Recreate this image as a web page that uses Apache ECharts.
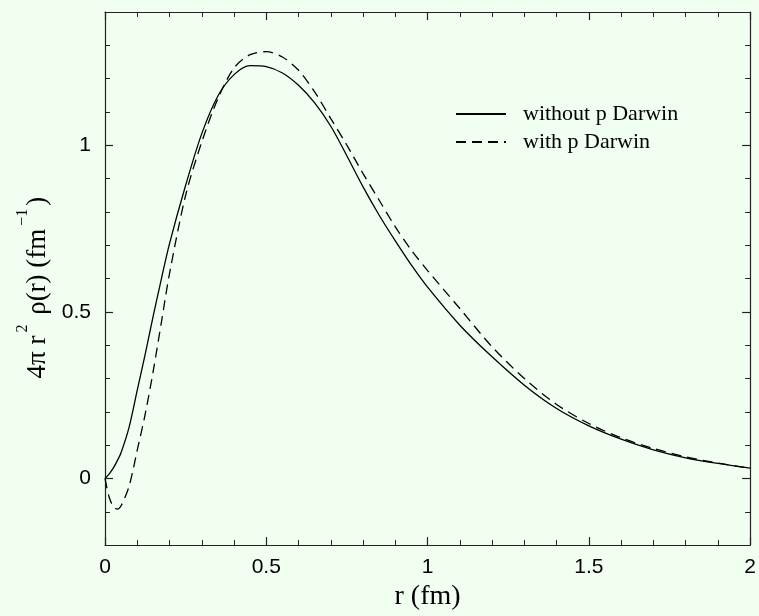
<!DOCTYPE html>
<html>
<head>
<meta charset="utf-8">
<script src="https://cdn.jsdelivr.net/npm/echarts@6/dist/echarts.min.js"></script>
<style>
  html, body { margin: 0; padding: 0; background: #f0fff0; }
  #chart { width: 759px; height: 616px; }
</style>
</head>
<body>
<div id="chart"></div>
<script>
// radius r (fm)
const rValues = [0, 0.0125, 0.025, 0.0375, 0.05, 0.075, 0.1, 0.125, 0.15, 0.175, 0.2,
  0.25, 0.3, 0.35, 0.4, 0.45, 0.5, 0.55, 0.6, 0.65, 0.7, 0.75, 0.8, 0.85, 0.9, 0.95, 1.0,
  1.1, 1.2, 1.3, 1.4, 1.5, 1.6, 1.7, 1.8, 1.9, 2.0]
// 4 pi r^2 rho(r), solid curve
const withoutDarwin = [0, 0.013, 0.03, 0.052, 0.078, 0.155, 0.265, 0.375, 0.49, 0.6, 0.705,
  0.88, 1.035, 1.148, 1.212, 1.239, 1.236, 1.217, 1.18, 1.127, 1.057, 0.968, 0.875, 0.79, 0.713, 0.64, 0.574,
  0.46, 0.365, 0.28, 0.21, 0.158, 0.118, 0.086, 0.062, 0.045, 0.031]
// dashed curve
const withDarwin = [0, -0.055, -0.083, -0.092, -0.082, -0.022, 0.085, 0.195, 0.325, 0.47, 0.615,
  0.85, 1.01, 1.14, 1.232, 1.272, 1.281, 1.265, 1.225, 1.16, 1.08, 1.0, 0.915, 0.835, 0.755, 0.685, 0.624,
  0.51, 0.395, 0.3, 0.222, 0.165, 0.122, 0.09, 0.065, 0.046, 0.031]
const yLabelValues = [0, 0.5, 1]
const seriesNames = ['without p Darwin', 'with p Darwin']

const axisColor = '#222'

function pairs (ys) {
  return rValues.map((r, i) => [r, ys[i]])
}

function xAxisOf (pos, withLabels) {
  return {
    type: 'value',
    position: pos,
    min: 0,
    max: 2,
    interval: 0.5,
    axisLine: { show: true, onZero: false, lineStyle: { color: axisColor, width: 1.2 } },
    axisTick: { show: true, inside: true, length: 8, lineStyle: { color: axisColor, width: 1.2 } },
    minorTick: { show: true, splitNumber: 5, length: 5, lineStyle: { color: axisColor, width: 1 } },
    splitLine: { show: false },
    axisLabel: {
      show: withLabels,
      margin: 12,
      color: '#000',
      fontFamily: 'Liberation Sans',
      fontSize: 21
    },
    name: withLabels ? 'r (fm)' : '',
    nameLocation: 'middle',
    nameGap: 26,
    nameTextStyle: { fontFamily: 'Liberation Serif', fontSize: 28, color: '#000' }
  }
}

function yAxisOf (pos, major, withLabels) {
  const ax = {
    type: 'value',
    position: pos,
    min: -0.2,
    max: 1.4,
    interval: 0.1,
    axisLine: { show: !major, onZero: false, lineStyle: { color: axisColor, width: 1.2 } },
    axisTick: { show: true, inside: true, length: major ? 8 : 5, lineStyle: { color: axisColor, width: major ? 1.2 : 1 } },
    splitLine: { show: false },
    axisLabel: { show: false }
  }
  if (major) {
    ax.axisTick.customValues = yLabelValues
  }
  if (withLabels) {
    ax.axisLabel = {
      show: true,
      customValues: yLabelValues,
      margin: 14,
      color: '#000',
      fontFamily: 'Liberation Sans',
      fontSize: 21
    }
    ax.name = '{n|4π r}{s|2}{n| ρ(r) (fm}{s|−1}{n|)}'
    ax.nameLocation = 'middle'
    ax.nameGap = 53
    ax.nameRotate = 90
    ax.nameTextStyle = {
      color: '#000',
      padding: [0, 18, 0, 0],
      rich: {
        n: { fontFamily: 'Liberation Serif', fontSize: 27, color: '#000', lineHeight: 36, verticalAlign: 'bottom' },
        s: { fontFamily: 'Liberation Serif', fontSize: 16, color: '#000', lineHeight: 36, verticalAlign: 'top', padding: [0, 3, 0, 3] }
      }
    }
  }
  return ax
}

const chart = echarts.init(document.getElementById('chart'))
const option = {
  backgroundColor: '#f0fff0',
  animation: false,
  grid: { left: 105, right: 6, top: 12, bottom: 65, containLabel: false },
  legend: {
    orient: 'vertical',
    left: 450,
    top: 98,
    itemWidth: 50,
    itemHeight: 20,
    itemGap: 6,
    data: seriesNames,
    itemStyle: { opacity: 0 },
    textStyle: { fontFamily: 'Liberation Serif', fontSize: 22, lineHeight: 20, color: '#000', padding: [0, 0, 0, 12] }
  },
  xAxis: [xAxisOf('bottom', true), xAxisOf('top', false)],
  yAxis: [
    yAxisOf('left', false, true),
    yAxisOf('left', true, false),
    yAxisOf('right', false, false),
    yAxisOf('right', true, false)
  ],
  series: [
    {
      name: seriesNames[0],
      type: 'line',
      xAxisIndex: 0,
      yAxisIndex: 0,
      data: pairs(withoutDarwin),
      smooth: 0.3,
      showSymbol: false,
      symbol: 'none',
      lineStyle: { color: '#000', width: 1.3, type: 'solid' },
      itemStyle: { color: '#000' }
    },
    {
      name: seriesNames[1],
      type: 'line',
      xAxisIndex: 0,
      yAxisIndex: 0,
      data: pairs(withDarwin),
      smooth: 0.3,
      showSymbol: false,
      symbol: 'none',
      lineStyle: { color: '#000', width: 1.3, type: [10, 6] },
      itemStyle: { color: '#000' }
    }
  ]
}
chart.setOption(option)
</script>
</body>
</html>
